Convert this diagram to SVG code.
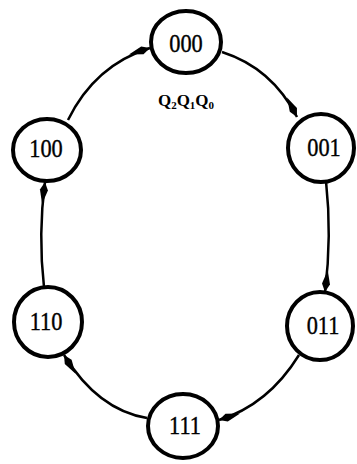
<svg xmlns="http://www.w3.org/2000/svg" width="357" height="464" viewBox="0 0 357 464">
<style>
.node ellipse{fill:#fff;stroke:#000;stroke-width:4}
.node text{font-family:"Liberation Serif","DejaVu Serif",serif;font-size:26px;text-anchor:middle;dominant-baseline:central;fill:#000;stroke:#000;stroke-width:0.4}
.edge{fill:none;stroke:#000;stroke-width:2.5;marker-end:url(#ah)}
.lbl{font-family:"Liberation Serif","DejaVu Serif",serif;font-size:17px;font-weight:bold;text-anchor:middle;fill:#000}
</style>
<defs>
<marker id="ah" markerUnits="userSpaceOnUse" markerWidth="26" markerHeight="12" viewBox="-24 -6 26 12" refX="0" refY="0" orient="auto">
<path d="M0,0 L-8,-4 L-22,0 L-8,4 z" fill="#000"/>
</marker>
</defs>
<g id="connectors">
<path class="edge" d="M222,52 Q272,68 297,117"/>
<path class="edge" d="M326,181 Q332,236 325,292"/>
<path class="edge" d="M299,355 Q268,405 219,420"/>
<path class="edge" d="M147,418 Q98,410 64,355"/>
<path class="edge" d="M44,287 Q38,234 45,182"/>
<path class="edge" d="M68,120 Q95,65 150,48"/>
</g>
<g id="n000" class="node"><ellipse cx="186" cy="42" rx="35" ry="31"/><text transform="translate(186,43) scale(0.86,1)">000</text></g>
<g id="n001" class="node"><ellipse cx="321" cy="148" rx="33" ry="34"/><text transform="translate(324,147) scale(0.86,1)">001</text></g>
<g id="n011" class="node"><ellipse cx="320" cy="326" rx="33" ry="34"/><text transform="translate(323,325) scale(0.86,1)">011</text></g>
<g id="n111" class="node"><ellipse cx="183" cy="426" rx="35" ry="32"/><text transform="translate(185,425) scale(0.86,1)">111</text></g>
<g id="n110" class="node"><ellipse cx="48" cy="322" rx="34" ry="35"/><text transform="translate(46,321) scale(0.86,1)">110</text></g>
<g id="n100" class="node"><ellipse cx="47" cy="150" rx="34" ry="31"/><text transform="translate(46,148) scale(0.86,1)">100</text></g>
<text class="lbl" x="186" y="106">Q<tspan font-size="11" dy="3">2</tspan><tspan dy="-3">Q</tspan><tspan font-size="11" dy="3">1</tspan><tspan dy="-3">Q</tspan><tspan font-size="11" dy="3">0</tspan></text>
</svg>
